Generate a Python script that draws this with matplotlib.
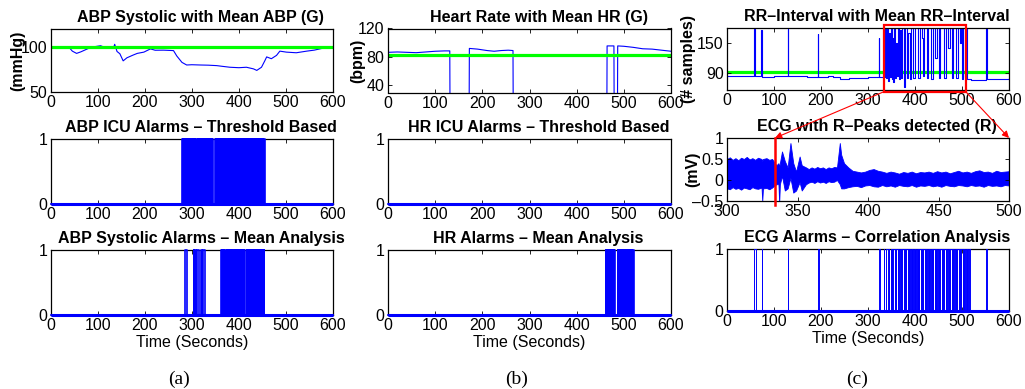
import numpy as np
import matplotlib
matplotlib.use('Agg')
import matplotlib.pyplot as plt
from matplotlib.patches import Rectangle, ConnectionPatch

plt.rcParams['font.family'] = ['Liberation Sans', 'DejaVu Sans']

# ---------------- data ----------------
abp_t = [0, 20, 39, 46, 55, 64, 81, 95, 106, 113, 125, 134, 136, 141, 147, 154, 162, 175, 184, 198,
         212, 222, 240, 261, 268, 279, 289, 300, 318, 335, 353, 365, 381, 400, 416, 431, 438, 448, 455, 459,
         469, 480, 487, 501, 522, 544, 560, 572, 586, 600]
abp_v = [100, 100, 99.6, 95.4, 92.9, 94.6, 98.6, 100.5, 101.4, 100, 100.3, 99.6, 103, 95, 92.5, 84.6, 88, 91, 92.9, 94.3,
         97.9, 96.4, 96.5, 96, 90, 82.9, 80, 80.3, 80, 79.8, 79.3, 78.5, 77.5, 77, 77.5, 75.7, 74, 77.5, 84.6, 89,
         87, 90.7, 95.4, 94.3, 93.6, 95.4, 96.5, 97.9, 99.6, 98.6]
abp_mean = 99.5

hr_t = [0, 20, 40, 60, 80, 100, 120, 131, 131.5, 172, 172.5, 190, 210, 225, 240, 255, 265, 265.5,
        464, 464.5, 479, 479.5, 486.5, 487, 500, 520, 540, 560, 580, 600]
hr_v = [86.5, 87, 86.5, 86, 87, 88, 88.5, 88.5, 0, 0, 92, 91, 89, 88, 89, 89.5, 89, 0,
        0, 95.5, 95.5, 0, 0, 95.5, 95, 93.5, 91.5, 91, 89.5, 88]
hr_mean = 83

rr_t = [0, 20, 40, 57, 58, 59, 72, 73, 74, 100, 128, 129, 130, 150, 170, 192, 193, 194, 210, 215,
        225, 240, 260, 280, 300, 322, 323, 324, 335,
        336, 338, 340, 342, 344, 346, 348, 350, 352, 354, 356, 358, 360, 362, 364, 366, 368, 371, 373, 376,
        378, 382, 385, 389, 392, 396, 400, 404, 407, 410, 415, 417, 420, 425, 428, 433, 435, 438, 442, 446,
        450, 454, 460, 462, 465, 470, 474, 478, 481, 485, 488, 491, 495, 498, 501, 503, 506, 508, 510,
        520, 540, 551, 552, 553, 570, 590, 600]
rr_v = [85, 84.5, 85, 84.5, 178, 84, 84, 176, 83.5, 84, 85, 178, 85, 84, 83, 83, 167, 83, 83.5, 85,
        82, 79, 80, 81, 82, 82, 160, 82, 83,
        180, 80, 185, 75, 170, 82, 185, 78, 160, 72, 185, 80, 150, 85, 185, 78, 175, 80, 185, 62,
        185, 80, 170, 78, 185, 80, 185, 185, 80, 185, 160, 85, 185, 80, 185, 185, 78, 185, 120, 185,
        80, 185, 185, 80, 185, 140, 185, 80, 185, 185, 80, 185, 150, 185, 78, 185, 82, 185, 78,
        77, 77, 78, 180, 78, 78, 79, 80]
rr_mean = 92.5
rr_zoom_window = (334, 508)

ecg_t = [300, 302, 304, 306, 308, 310, 312, 314, 316, 318, 320, 322, 324.5, 325, 325.5, 328, 330, 332, 333,
         335, 336.5, 337, 337.5, 339, 341, 343, 345, 347, 349, 351.5, 353,
         356, 358, 360, 362, 364, 366, 368, 370, 372, 374, 376, 378, 380, 381,
         383, 386, 389, 392, 395, 398, 401, 404, 407, 410, 413, 416, 419, 422, 425, 428, 431, 434, 437, 440,
         443, 446, 449, 452, 455, 458, 461, 464, 467, 470, 473, 476, 479, 482, 485, 488, 491, 494, 497, 500]
ecg_upper = [0.50, 0.54, 0.48, 0.52, 0.47, 0.53, 0.50, 0.55, 0.49, 0.52, 0.48, 0.53, 0.5, 0.45, 0.5, 0.52, 0.48, 0.5, 0.45,
             0.35, 0.4, 0.3, 0.4, 0.68, 0.45, 0.3, 0.88, 0.4, 0.2, 0.56, 0.35,
             0.3, 0.26, 0.3, 0.27, 0.31, 0.28, 0.3, 0.26, 0.3, 0.28, 0.31, 0.3, 0.88, 0.6,
             0.4, 0.3, 0.22, 0.2, 0.18, 0.2, 0.24, 0.26, 0.22, 0.2, 0.17, 0.2, 0.18, 0.15, 0.19, 0.17, 0.2, 0.16, 0.19, 0.18,
             0.2, 0.17, 0.21, 0.18, 0.2, 0.16, 0.19, 0.22, 0.18, 0.2, 0.17, 0.21, 0.23, 0.19, 0.2, 0.17, 0.22, 0.19, 0.2, 0.21]
ecg_lower = [-0.2, -0.22, -0.17, -0.21, -0.19, -0.23, -0.18, -0.2, -0.22, -0.17, -0.2, -0.21, -0.18, -0.5, -0.2, -0.19, -0.22, -0.18, -0.15,
             -0.1, -0.1, -0.55, -0.1, 0.1, -0.25, -0.2, 0.05, -0.3, -0.25, -0.05, -0.25,
             -0.1, -0.06, -0.04, -0.07, -0.03, -0.06, -0.04, -0.07, -0.03, -0.05, -0.04, 0.0, -0.1, -0.2,
             -0.2, -0.17, -0.15, -0.14, -0.17, -0.13, -0.12, -0.15, -0.16, -0.12, -0.15, -0.13, -0.16, -0.12, -0.14, -0.15, -0.12, -0.16, -0.13, -0.14,
             -0.12, -0.15, -0.13, -0.16, -0.12, -0.14, -0.15, -0.12, -0.13, -0.15, -0.12, -0.14, -0.13, -0.16, -0.12, -0.14, -0.13, -0.15, -0.12, -0.13]
ecg_r_peak = 334

abp_icu_on = [(280, 281), (282, 283), (284, 285), (286, 287), (288, 289), (290, 291), (292, 293), (294, 295), (296, 297),
              (300, 301), (302, 303), (304, 305), (306, 307), (309, 310), (311, 312), (313, 314), (315, 316), (317, 318),
              (319, 320), (321, 322), (323, 324), (325, 326), (327, 328), (329, 330), (331, 332), (333, 334), (335, 336),
              (337, 338), (339, 340), (341, 342), (343, 344), (345, 346), (350, 351), (352, 353), (354, 355), (356, 357),
              (358, 359), (360, 361), (362, 363), (364, 365), (366, 367), (368, 369), (370, 371), (372, 373), (376, 377),
              (378, 379), (380, 381), (382, 383), (384, 385), (386, 387), (388, 389), (390, 391), (393, 394), (395, 396),
              (397, 398), (399, 400), (401, 402), (403, 404), (405, 406), (407, 408), (409, 410), (411, 412), (413, 414),
              (415, 416), (418, 419), (420, 421), (422, 423), (424, 425), (426, 427), (428, 429), (430, 431), (433, 434),
              (435, 436), (437, 438), (439, 440), (441, 442), (443, 444), (445, 446), (447, 448), (449, 450), (451, 452),
              (453, 455.5)]
abp_mean_on = [(285, 290), (304, 305), (307, 309), (310, 315), (320, 322), (324, 327),
               (361, 362), (363, 364), (365, 366), (367, 368), (371, 372), (375, 376), (377, 378), (379, 380), (381, 382),
               (383, 384), (385, 386), (389, 390), (391, 392), (393, 394), (395, 396), (397, 398), (399, 400), (403, 404),
               (405, 406), (407, 408), (409, 410), (411, 412), (413, 414), (417, 418), (419, 420), (421, 422), (423, 424),
               (425, 426), (427, 428), (431, 432), (433, 434), (435, 436), (437, 438), (439, 440), (441, 442), (443, 444),
               (445, 446), (447, 448), (449, 450), (451, 452), (453, 454)]
hr_icu_on = []
hr_mean_on = [(462, 463), (464, 465), (466, 467), (468, 469), (470, 471), (472, 473), (474, 475), (476, 477), (478, 479),
              (480, 482), (487, 488), (489, 490), (491, 492), (493, 494), (495, 496), (497, 498), (499, 500), (501, 502),
              (503, 504), (505, 506), (507, 508), (509, 510), (511, 512), (513, 514), (515, 516), (517, 518), (519, 521)]
ecg_alarm_on = [(58, 61.5), (74, 74.5), (129.5, 130), (194.5, 195), (324, 324.5), (334, 334.5), (338, 342),
                (345, 345.5), (348, 348.5), (351, 351.5), (550.5, 553)]
ecg_alarm_block = (354, 516)
ecg_alarm_dips = [357, 360, 363.5, 367, 370, 372.5, 376, 379, 381.5, 385, 388, 390.5, 394, 397, 399.5, 403, 406, 408.5,
                  412, 415, 417.5, 421, 424, 426.5, 430, 433, 435.5, 439, 442, 444.5, 448, 451, 453.5, 457, 460, 462.5,
                  466, 469, 471.5, 475, 478, 480.5, 484, 487, 489.5, 493, 496, 498.5, 502, 505, 507.5, 511, 514]

titles = {
    'abp': 'ABP Systolic with Mean ABP (G)',
    'abp_icu': 'ABP ICU Alarms \u2013 Threshold Based',
    'abp_mean': 'ABP Systolic Alarms \u2013 Mean Analysis',
    'hr': 'Heart Rate with Mean HR (G)',
    'hr_icu': 'HR ICU Alarms \u2013 Threshold Based',
    'hr_mean': 'HR Alarms \u2013 Mean Analysis',
    'rr': 'RR\u2013Interval with Mean RR\u2013Interval',
    'ecg': 'ECG with R\u2013Peaks detected (R)',
    'ecg_alarm': 'ECG Alarms \u2013 Correlation Analysis',
}
time_ticks = [0, 100, 200, 300, 400, 500, 600]
ecg_ticks = [300, 350, 400, 450, 500]
ecg_yticks = [-0.5, 0, 0.5, 1]
ecg_ylabels = ['\u20130.5', '0', '0.5', '1']

# ---------------- layout ----------------
W, H = 1025, 389
fig = plt.figure(figsize=(W / 100, H / 100), dpi=100)

def px_axes(left, top, right, bottom):
    return fig.add_axes([left / W, 1 - bottom / H, (right - left) / W, (bottom - top) / H])

FS = 11.5
BLUE = (0, 0, 1)
GREEN = (0, 1, 0)

def style(ax, title, xticks=time_ticks, xlim=(0, 600)):
    ax.set_xlim(*xlim)
    ax.set_xticks(xticks)
    ax.tick_params(direction='in', top=True, right=True, length=3, width=0.6,
                   labelsize=FS, pad=2.5)
    for s in ax.spines.values():
        s.set_linewidth(0.9)
    ax.set_title(title, fontsize=FS, fontweight='bold', pad=5, x=0.532)

def alarm_plot(ax, intervals, title, xlabel=False, lw=1.2):
    xs, ys = [0], [0]
    for s, e in sorted(intervals):
        xs += [s, s, e, e]
        ys += [0, 1, 1, 0]
    xs.append(600)
    ys.append(0)
    ax.plot(xs, ys, color=BLUE, lw=lw, clip_on=False, zorder=3)
    ax.plot([0, 600], [0, 0], color=BLUE, lw=2.2, clip_on=False, zorder=3, solid_capstyle='butt')
    ax.set_ylim(0, 1)
    ax.set_yticks([0, 1])
    style(ax, title)
    if xlabel:
        ax.set_xlabel('Time (Seconds)', fontsize=FS, labelpad=1)

# column a
ax_abp = px_axes(50.7, 29, 333, 92)
ax_abp.plot(abp_t, abp_v, color=BLUE, lw=0.8)
ax_abp.axhline(abp_mean, color=GREEN, lw=2.3)
ax_abp.set_ylim(50, 120)
ax_abp.set_yticks([50, 100])
style(ax_abp, titles['abp'])
ax_abp.set_ylabel('(mmHg)', fontsize=FS, fontweight='bold')
ax_abp.yaxis.set_label_coords(-0.091, 0.5)

ax_abp_icu = px_axes(50.7, 139, 333, 204)
alarm_plot(ax_abp_icu, abp_icu_on, titles['abp_icu'])
ax_abp_mean = px_axes(50.7, 250, 333, 315)
alarm_plot(ax_abp_mean, abp_mean_on, titles['abp_mean'], xlabel=True)

# column b
ax_hr = px_axes(388, 28.5, 671, 92.5)
ax_hr.plot(hr_t, hr_v, color=BLUE, lw=0.8)
ax_hr.axhline(hr_mean, color=GREEN, lw=2.3)
ax_hr.set_ylim(30, 120)
ax_hr.set_yticks([40, 80, 120])
style(ax_hr, titles['hr'])
ax_hr.set_ylabel('(bpm)', fontsize=FS, fontweight='bold')
ax_hr.yaxis.set_label_coords(-0.081, 0.5)

ax_hr_icu = px_axes(388, 139, 671, 204)
alarm_plot(ax_hr_icu, hr_icu_on, titles['hr_icu'])
ax_hr_mean = px_axes(388, 250, 671, 315)
alarm_plot(ax_hr_mean, hr_mean_on, titles['hr_mean'], xlabel=True)

# column c
ax_rr = px_axes(727, 27.5, 1009, 90)
ax_rr.plot(rr_t, rr_v, color=BLUE, lw=0.8, drawstyle='steps-post')
ax_rr.axhline(rr_mean, color=GREEN, lw=2.3, zorder=1.5)
ax_rr.set_ylim(57, 180)
ax_rr.set_yticks([90, 150])
style(ax_rr, titles['rr'])
ax_rr.set_ylabel('(# samples)', fontsize=FS, fontweight='bold')
ax_rr.yaxis.set_label_coords(-0.11, 0.5)
rect = Rectangle((rr_zoom_window[0], 53.7), rr_zoom_window[1] - rr_zoom_window[0], 184.5 - 53.7,
                 fill=False, edgecolor='red', lw=1.6, clip_on=False, zorder=4)
ax_rr.add_patch(rect)

ax_ecg = px_axes(727, 138, 1009, 201)
ax_ecg.fill_between(ecg_t, ecg_lower, ecg_upper, color=BLUE, lw=0.6)
ax_ecg.plot([ecg_r_peak, ecg_r_peak], [1.0, -0.6], color='red', lw=1.8, clip_on=False, zorder=4)
ax_ecg.set_ylim(-0.5, 1)
ax_ecg.set_yticks(ecg_yticks)
ax_ecg.set_yticklabels(ecg_ylabels)
style(ax_ecg, titles['ecg'], xticks=ecg_ticks, xlim=(300, 500))
ax_ecg.set_ylabel('(mV)', fontsize=FS, fontweight='bold')
ax_ecg.yaxis.set_label_coords(-0.096, 0.5)

# ECG alarm block: on from block start to block end, with brief drops at the dip times
block_edges = [ecg_alarm_block[0]]
for d in ecg_alarm_dips:
    block_edges += [d - 0.2, d + 0.2]
block_edges.append(ecg_alarm_block[1])
ecg_block_on = [(block_edges[i], block_edges[i + 1]) for i in range(0, len(block_edges), 2)]

ax_ecg_alarm = px_axes(727, 249, 1009, 311)
alarm_plot(ax_ecg_alarm, ecg_alarm_on + ecg_block_on, titles['ecg_alarm'], xlabel=True, lw=0.7)

# zoom arrows
for (xa, xb) in [(rr_zoom_window[0], 334), (rr_zoom_window[1], 500)]:
    con = ConnectionPatch(xyA=(xa, 53.7), coordsA=ax_rr.transData,
                          xyB=(xb, 1.0), coordsB=ax_ecg.transData,
                          arrowstyle='-|>', color='red', lw=0.8, mutation_scale=10,
                          shrinkA=0, shrinkB=0, zorder=5)
    fig.add_artist(con)

# sub-figure labels
for label, xc in [('(a)', 179), ('(b)', 517), ('(c)', 857)]:
    fig.text(xc / W, 1 - 379 / H, label, ha='center', va='center', fontsize=14,
             family=['Liberation Serif', 'DejaVu Serif'])

fig.savefig('out.png', dpi=100)
